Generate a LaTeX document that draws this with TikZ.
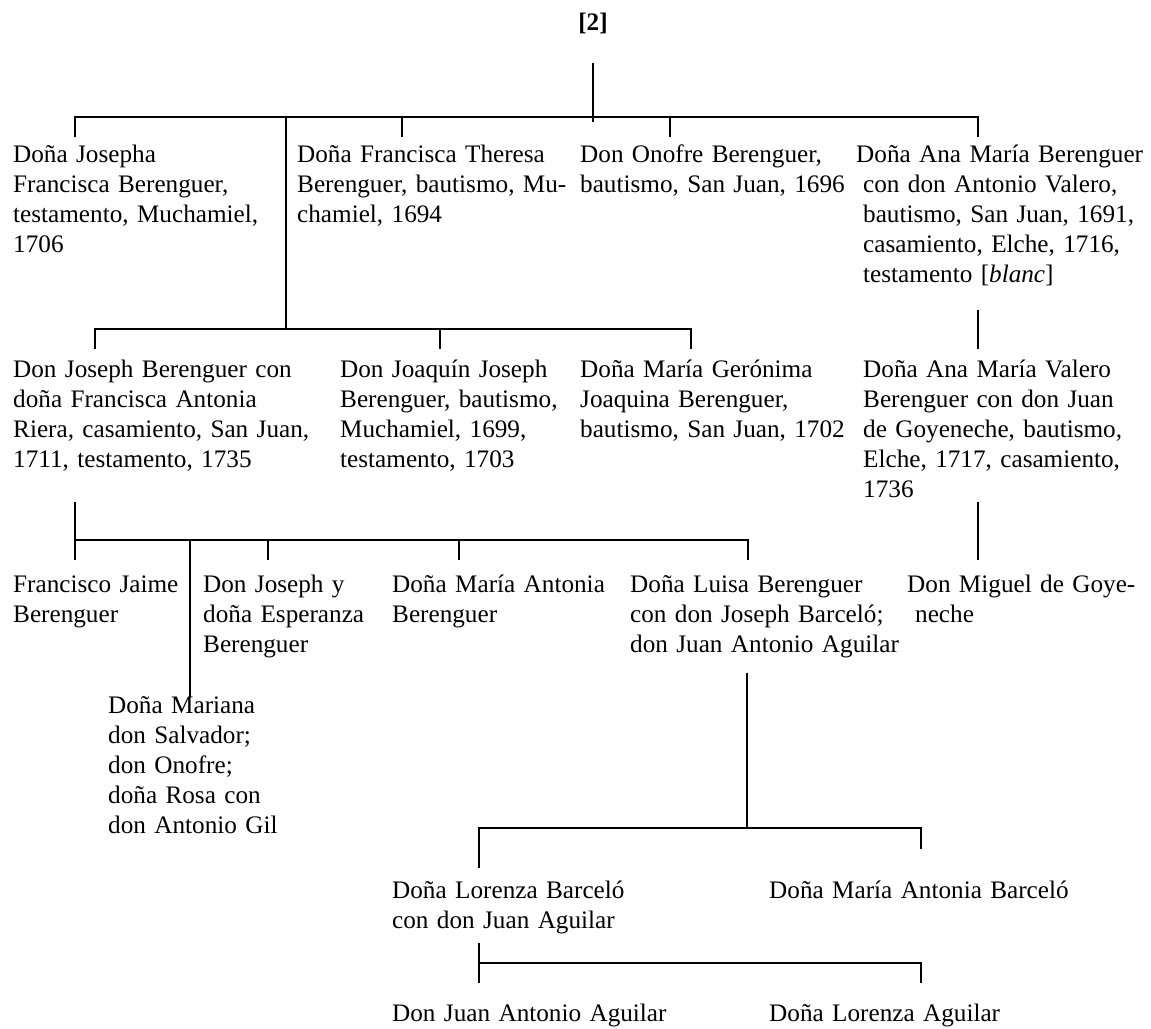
\documentclass[tikz,border=0pt]{standalone}
\usepackage{fontspec}
\setmainfont{Liberation Serif}
\begin{document}
\begin{tikzpicture}[x=1pt,y=-1pt,
  person/.style={anchor=base west, inner sep=0pt, text width=330pt, align=left,
                 font=\fontsize{25.2}{30}\selectfont},
  heading/.style={anchor=base, inner sep=0pt, font=\fontsize{25.2}{30}\selectfont\bfseries},
  link/.style={line width=2.8pt, line cap=butt, line join=miter}]
\useasboundingbox (0,0) rectangle (1151,1028);

% ---------- heading ----------
\node[heading] (root) at (593,30) {[2]};

% ---------- first generation ----------
\node[person] (josepha) at (13,162) {Doña Josepha\\Francisca Berenguer,\\testamento, Muchamiel,\\1706};
\node[person] (franciscaT) at (297,162) {Doña Francisca Theresa\\Berenguer, bautismo, Mu-\\chamiel, 1694};
\node[person] (onofre) at (580,162) {Don Onofre Berenguer,\\bautismo, San Juan, 1696};
\node[person] (anamaria) at (856,162) {Doña Ana María Berenguer\\\hspace*{7pt}con don Antonio Valero,\\\hspace*{7pt}bautismo, San Juan, 1691,\\\hspace*{7pt}casamiento, Elche, 1716,\\\hspace*{7pt}testamento [\textit{blanc}]};

% ---------- second generation ----------
\node[person] (joseph) at (13,377) {Don Joseph Berenguer con\\doña Francisca Antonia\\Riera, casamiento, San Juan,\\1711, testamento, 1735};
\node[person] (joaquin) at (340,377) {Don Joaquín Joseph\\Berenguer, bautismo,\\Muchamiel, 1699,\\testamento, 1703};
\node[person] (geronima) at (580,377) {Doña María Gerónima\\Joaquina Berenguer,\\bautismo, San Juan, 1702};
\node[person] (valero) at (863,377) {Doña Ana María Valero\\Berenguer con don Juan\\de Goyeneche, bautismo,\\Elche, 1717, casamiento,\\1736};

% ---------- third generation ----------
\node[person] (francisco) at (13,592) {Francisco Jaime\\Berenguer};
\node[person] (josephy) at (203,592) {Don Joseph y\\doña Esperanza\\Berenguer};
\node[person] (mariaA) at (392,592) {Doña María Antonia\\Berenguer};
\node[person] (luisa) at (630,592) {Doña Luisa Berenguer\\con don Joseph Barceló;\\don Juan Antonio Aguilar};
\node[person] (miguel) at (907,592) {Don Miguel de Goye-\\\hspace*{8pt}neche};
\node[person] (mariana) at (108,713) {Doña Mariana\\don Salvador;\\don Onofre;\\doña Rosa con\\don Antonio Gil};

% ---------- fourth and fifth generations ----------
\node[person] (lorenza) at (392,898) {Doña Lorenza Barceló\\con don Juan Aguilar};
\node[person] (mariaAB) at (769,898) {Doña María Antonia Barceló};
\node[person] (juanA) at (392,1021) {Don Juan Antonio Aguilar};
\node[person] (lorenzaA) at (769,1021) {Doña Lorenza Aguilar};

% ---------- junction points ----------
\coordinate (s0) at (593,63);   \coordinate (s0b) at (593,122);
\coordinate (b1L) at (75,117);  \coordinate (b1R) at (978,117);
\coordinate (t1a) at (75,137);  \coordinate (t1b) at (402,137);
\coordinate (t1c) at (670,137); \coordinate (t1d) at (978,137);
\coordinate (v2t) at (286,117); \coordinate (v2b) at (286,329);
\coordinate (b2L) at (95,329);  \coordinate (b2R) at (691,329);
\coordinate (t2a) at (95,349);  \coordinate (t2b) at (440,349);
\coordinate (t2c) at (691,349);
\coordinate (av1) at (978,310); \coordinate (av2) at (978,349);
\coordinate (j3) at (75,502);   \coordinate (b3L) at (75,540);
\coordinate (b3R) at (748,540); \coordinate (t3a) at (75,560);
\coordinate (t3b) at (268,560); \coordinate (t3c) at (459,560);
\coordinate (t3d) at (748,560);
\coordinate (mv1) at (190,540); \coordinate (mv2) at (190,697);
\coordinate (gv1) at (978,502); \coordinate (gv2) at (978,560);
\coordinate (l4) at (747,673);  \coordinate (b4M) at (747,828);
\coordinate (b4L) at (479,828); \coordinate (b4R) at (921,828);
\coordinate (t4a) at (479,868); \coordinate (t4b) at (921,849);
\coordinate (l5) at (479,943);  \coordinate (b5L) at (479,963);
\coordinate (b5R) at (921,963); \coordinate (t5a) at (479,983);
\coordinate (t5b) at (921,983);

% ---------- connectors ----------
\draw[link] (s0) -- (s0b);
\draw[link] (t1a) -- (b1L) -- (b1R) -- (t1d);
\draw[link] (t1b) -- (t1b |- b1L);
\draw[link] (t1c) -- (t1c |- b1L);
\draw[link] (v2t) -- (v2b);
\draw[link] (t2a) -- (b2L) -- (b2R) -- (t2c);
\draw[link] (t2b) -- (t2b |- b2L);
\draw[link] (av1) -- (av2);
\draw[link] (j3) -- (t3a);
\draw[link] (b3L) -- (b3R) -- (t3d);
\draw[link] (t3b) -- (t3b |- b3L);
\draw[link] (t3c) -- (t3c |- b3L);
\draw[link] (mv1) -- (mv2);
\draw[link] (gv1) -- (gv2);
\draw[link] (l4) -- (b4M);
\draw[link] (t4a) -- (b4L) -- (b4R) -- (t4b);
\draw[link] (l5) -- (t5a);
\draw[link] (b5L) -- (b5R) -- (t5b);
\end{tikzpicture}
\end{document}
